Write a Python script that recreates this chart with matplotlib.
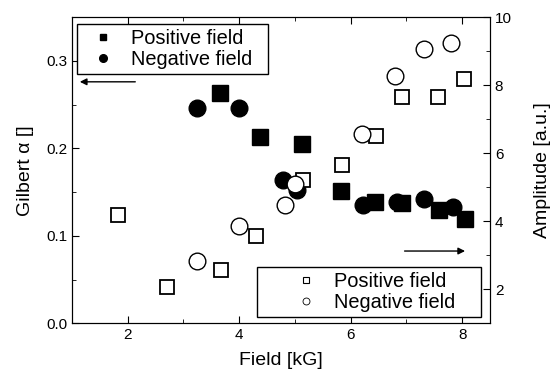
import matplotlib
matplotlib.use("Agg")
import matplotlib.pyplot as plt
from matplotlib.lines import Line2D
from matplotlib.legend_handler import HandlerLine2D
from matplotlib.ticker import MultipleLocator

plt.rcParams['font.family'] = ['Liberation Sans', 'DejaVu Sans']

# Gilbert damping (left axis)
pos_alpha_field = [3.65, 4.38, 5.13, 5.83, 6.43, 6.92, 7.59, 8.06]
pos_alpha = [0.263, 0.213, 0.205, 0.151, 0.139, 0.138, 0.129, 0.119]
neg_alpha_field = [3.25, 3.99, 4.79, 5.03, 6.22, 6.83, 7.32, 7.83]
neg_alpha = [0.246, 0.246, 0.164, 0.152, 0.135, 0.139, 0.142, 0.133]

# Amplitude (right axis)
pos_amp_field = [1.82, 2.70, 3.67, 4.31, 5.15, 5.84, 6.46, 6.92, 7.57, 8.04]
pos_amp = [4.17, 2.06, 2.57, 3.58, 5.2, 5.65, 6.52, 7.64, 7.66, 8.18]
neg_amp_field = [3.25, 3.99, 4.82, 5.00, 6.21, 6.80, 7.32, 7.80]
neg_amp = [2.84, 3.87, 4.47, 5.09, 6.56, 8.28, 9.07, 9.24]

labels = ['Positive field', 'Negative field']

fig = plt.figure(figsize=(5.6, 3.75), dpi=100)
ax = fig.add_axes([0.1286, 0.138, 0.7464, 0.816])
ax2 = ax.twinx()

ax.plot(pos_alpha_field, pos_alpha, 's', color='black', markersize=11, zorder=3)
ax.plot(neg_alpha_field, neg_alpha, 'o', color='black', markersize=12, zorder=3)
ax2.plot(pos_amp_field, pos_amp, 's', mfc='white', mec='black', mew=1.3, markersize=10.5)
ax2.plot(neg_amp_field, neg_amp, 'o', mfc='white', mec='black', mew=1.0, markersize=12)

ax.set_xlim(1, 8.5)
ax.set_ylim(0, 0.35)
ax2.set_ylim(1, 10)

ax.xaxis.set_major_locator(MultipleLocator(2))
ax.xaxis.set_minor_locator(MultipleLocator(1))
ax.yaxis.set_major_locator(MultipleLocator(0.1))
ax.yaxis.set_minor_locator(MultipleLocator(0.05))
ax2.yaxis.set_major_locator(MultipleLocator(2))
ax2.yaxis.set_minor_locator(MultipleLocator(1))
ax.yaxis.set_major_formatter(plt.FormatStrFormatter('%.1f'))

for a in (ax, ax2):
    a.tick_params(which='both', direction='in', labelsize=11)
    a.tick_params(which='major', length=5)
    a.tick_params(which='minor', length=3)
ax.tick_params(which='both', top=True)

ax.set_xlabel('Field [kG]', fontsize=14, labelpad=7)
ax.set_ylabel('Gilbert \u03b1 []', fontsize=14, labelpad=9)
ax2.set_ylabel('Amplitude [a.u.]', fontsize=14, labelpad=16)

# upper legend (left axis data)
h1 = [Line2D([], [], ls='none', marker='s', color='black', markersize=5),
      Line2D([], [], ls='none', marker='o', color='black', markersize=5.5)]
leg1 = ax2.legend(h1, labels, loc='upper left', mode='expand',
                  bbox_to_anchor=(0.012, 0.978, 0.457, 0), borderaxespad=0,
                  fontsize=14.4, frameon=True, fancybox=False, edgecolor='black',
                  framealpha=1, handlelength=2.0, handletextpad=0.45,
                  borderpad=0.25, labelspacing=0.1,
                  handler_map={Line2D: HandlerLine2D(numpoints=1, xpad=0.1)})
leg1.get_frame().set_linewidth(1.0)
ax2.add_artist(leg1)

# lower legend (right axis data)
h2 = [Line2D([], [], ls='none', marker='s', mfc='white', mec='black', markersize=5, mew=0.8),
      Line2D([], [], ls='none', marker='o', mfc='white', mec='black', markersize=5, mew=0.6)]
leg2 = ax2.legend(h2, labels, loc='lower left', mode='expand',
                  bbox_to_anchor=(0.443, 0.021, 0.536, 0), borderaxespad=0,
                  fontsize=14.4, frameon=True, fancybox=False, edgecolor='black',
                  framealpha=1, handlelength=3.2, handletextpad=0.4,
                  borderpad=0.25, labelspacing=0.1,
                  handler_map={Line2D: HandlerLine2D(numpoints=1, xpad=1.2)})
leg2.get_frame().set_linewidth(1.0)

ax.annotate('', xy=(0.012, 0.789), xytext=(0.158, 0.789), xycoords='axes fraction',
            arrowprops=dict(arrowstyle='-|>', color='black', lw=1, mutation_scale=10))
ax2.annotate('', xy=(0.947, 0.236), xytext=(0.789, 0.236), xycoords='axes fraction',
             arrowprops=dict(arrowstyle='-|>', color='black', lw=1, mutation_scale=10))

fig.savefig('out.png', dpi=100)
